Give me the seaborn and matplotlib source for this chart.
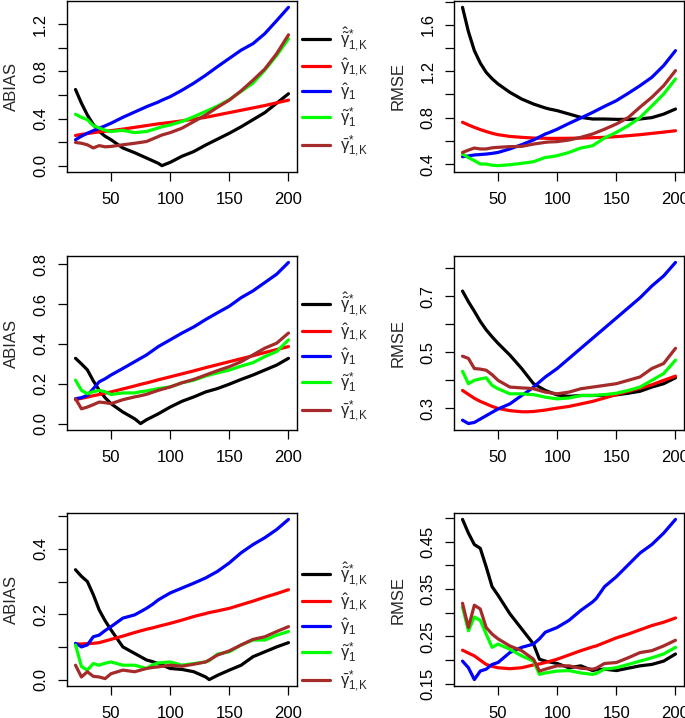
import matplotlib
matplotlib.use("Agg")
import matplotlib.pyplot as plt
import seaborn as sns
import pandas as pd

# ---------------- data ----------------
x_row1 = [20, 25, 30, 35, 40, 45, 50, 60, 70, 80, 90, 93, 100, 110, 120, 130, 140, 150, 160, 170, 180, 190, 200]
x_row2 = [20, 25, 30, 35, 40, 45, 50, 60, 70, 75, 80, 90, 100, 110, 120, 130, 140, 150, 160, 170, 180, 190, 200]
x_row3 = [20, 25, 30, 35, 40, 45, 50, 60, 70, 80, 85, 90, 100, 110, 120, 130, 133, 140, 150, 160, 170, 180, 190, 200]

estimators = [r"$\hat{\tilde{\gamma}}^{*}_{1{,}K}$", r"$\hat{\gamma}_{1{,}K}$", r"$\hat{\gamma}_{1}$",
              r"$\tilde{\gamma}^{*}_{1}$", r"$\bar{\gamma}^{*}_{1{,}K}$"]

# row 1 ABIAS
abias1_hts = [0.646, 0.53, 0.43, 0.35, 0.29, 0.25, 0.22, 0.15, 0.11, 0.065, 0.02, 0.0, 0.028, 0.08, 0.12, 0.175, 0.225, 0.275, 0.33, 0.39, 0.45, 0.53, 0.61]
abias1_hk = [0.256, 0.265, 0.272, 0.28, 0.287, 0.292, 0.297, 0.31, 0.325, 0.34, 0.355, 0.358, 0.367, 0.38, 0.395, 0.41, 0.43, 0.45, 0.47, 0.49, 0.51, 0.533, 0.556]
abias1_h = [0.22, 0.25, 0.275, 0.297, 0.318, 0.338, 0.36, 0.41, 0.455, 0.50, 0.54, 0.555, 0.585, 0.64, 0.70, 0.767, 0.84, 0.91, 0.98, 1.035, 1.12, 1.23, 1.343]
abias1_ts = [0.436, 0.41, 0.39, 0.34, 0.32, 0.30, 0.29, 0.30, 0.28, 0.29, 0.32, 0.33, 0.345, 0.375, 0.415, 0.46, 0.505, 0.56, 0.63, 0.70, 0.81, 0.935, 1.076]
abias1_bs = [0.197, 0.19, 0.177, 0.15, 0.17, 0.16, 0.163, 0.177, 0.19, 0.205, 0.247, 0.26, 0.28, 0.318, 0.374, 0.43, 0.495, 0.556, 0.635, 0.725, 0.82, 0.95, 1.11]
# row 1 RMSE
rmse1_hts = [1.75, 1.54, 1.377, 1.27, 1.19, 1.135, 1.09, 1.018, 0.96, 0.917, 0.883, 0.875, 0.86, 0.831, 0.802, 0.788, 0.788, 0.785, 0.785, 0.788, 0.80, 0.83, 0.874]
rmse1_hk = [0.76, 0.737, 0.716, 0.697, 0.68, 0.665, 0.653, 0.638, 0.63, 0.624, 0.622, 0.621, 0.621, 0.622, 0.624, 0.627, 0.63, 0.636, 0.644, 0.653, 0.664, 0.675, 0.687]
rmse1_h = [0.463, 0.47, 0.478, 0.482, 0.486, 0.492, 0.50, 0.53, 0.567, 0.607, 0.659, 0.67, 0.70, 0.75, 0.797, 0.845, 0.897, 0.946, 1.009, 1.075, 1.147, 1.248, 1.377]
rmse1_ts = [0.486, 0.455, 0.43, 0.40, 0.40, 0.39, 0.386, 0.394, 0.406, 0.42, 0.457, 0.46, 0.472, 0.50, 0.538, 0.558, 0.624, 0.673, 0.73, 0.80, 0.90, 1.003, 1.133]
rmse1_bs = [0.50, 0.52, 0.538, 0.53, 0.53, 0.54, 0.544, 0.55, 0.552, 0.572, 0.587, 0.59, 0.593, 0.607, 0.63, 0.659, 0.70, 0.745, 0.80, 0.89, 0.975, 1.075, 1.205]

# row 2 ABIAS
abias2_hts = [0.328, 0.30, 0.27, 0.215, 0.168, 0.13, 0.10, 0.058, 0.024, 0.0, 0.019, 0.049, 0.083, 0.112, 0.134, 0.159, 0.176, 0.198, 0.222, 0.244, 0.269, 0.294, 0.328]
abias2_hk = [0.12, 0.127, 0.133, 0.14, 0.146, 0.153, 0.159, 0.174, 0.189, 0.197, 0.204, 0.22, 0.235, 0.25, 0.265, 0.281, 0.296, 0.311, 0.326, 0.341, 0.357, 0.372, 0.387]
abias2_h = [0.125, 0.13, 0.142, 0.175, 0.21, 0.225, 0.244, 0.277, 0.311, 0.328, 0.345, 0.387, 0.421, 0.455, 0.486, 0.523, 0.557, 0.59, 0.633, 0.667, 0.709, 0.751, 0.81]
abias2_ts = [0.218, 0.167, 0.15, 0.16, 0.167, 0.16, 0.146, 0.154, 0.154, 0.16, 0.164, 0.176, 0.184, 0.205, 0.218, 0.239, 0.255, 0.269, 0.289, 0.306, 0.337, 0.362, 0.421]
abias2_bs = [0.125, 0.074, 0.083, 0.095, 0.108, 0.105, 0.10, 0.12, 0.134, 0.14, 0.147, 0.167, 0.184, 0.205, 0.222, 0.244, 0.266, 0.286, 0.311, 0.345, 0.379, 0.404, 0.455]
# row 2 RMSE
rmse2_hts = [0.718, 0.68, 0.646, 0.61, 0.58, 0.555, 0.532, 0.49, 0.442, 0.415, 0.388, 0.364, 0.348, 0.343, 0.346, 0.346, 0.346, 0.348, 0.354, 0.361, 0.376, 0.388, 0.409]
rmse2_hk = [0.364, 0.35, 0.336, 0.325, 0.316, 0.307, 0.30, 0.292, 0.288, 0.288, 0.289, 0.294, 0.301, 0.307, 0.316, 0.325, 0.337, 0.349, 0.361, 0.372, 0.384, 0.40, 0.415]
rmse2_h = [0.258, 0.246, 0.25, 0.262, 0.274, 0.286, 0.298, 0.316, 0.346, 0.36, 0.376, 0.412, 0.442, 0.478, 0.514, 0.55, 0.586, 0.622, 0.658, 0.694, 0.736, 0.772, 0.82]
rmse2_ts = [0.432, 0.388, 0.40, 0.405, 0.409, 0.382, 0.37, 0.352, 0.352, 0.35, 0.349, 0.34, 0.334, 0.337, 0.346, 0.346, 0.349, 0.354, 0.364, 0.376, 0.40, 0.424, 0.472]
rmse2_bs = [0.486, 0.478, 0.442, 0.44, 0.436, 0.42, 0.40, 0.376, 0.373, 0.372, 0.37, 0.358, 0.352, 0.358, 0.37, 0.376, 0.382, 0.388, 0.40, 0.412, 0.442, 0.46, 0.514]

# row 3 ABIAS
abias3_hts = [0.336, 0.316, 0.30, 0.26, 0.213, 0.18, 0.152, 0.10, 0.08, 0.06, 0.055, 0.049, 0.034, 0.031, 0.024, 0.008, 0.0, 0.013, 0.029, 0.044, 0.07, 0.085, 0.10, 0.113]
abias3_hk = [0.109, 0.109, 0.11, 0.111, 0.113, 0.118, 0.123, 0.133, 0.144, 0.154, 0.158, 0.163, 0.172, 0.182, 0.193, 0.202, 0.205, 0.21, 0.218, 0.229, 0.24, 0.252, 0.263, 0.275]
abias3_h = [0.111, 0.10, 0.106, 0.131, 0.136, 0.15, 0.162, 0.188, 0.198, 0.218, 0.23, 0.244, 0.265, 0.28, 0.295, 0.311, 0.317, 0.331, 0.357, 0.388, 0.413, 0.434, 0.459, 0.49]
abias3_ts = [0.106, 0.04, 0.029, 0.049, 0.044, 0.05, 0.054, 0.044, 0.044, 0.034, 0.045, 0.051, 0.054, 0.044, 0.049, 0.054, 0.058, 0.078, 0.085, 0.106, 0.121, 0.121, 0.136, 0.147]
abias3_bs = [0.044, 0.008, 0.024, 0.01, 0.008, 0.003, 0.018, 0.029, 0.024, 0.034, 0.037, 0.039, 0.044, 0.041, 0.047, 0.054, 0.06, 0.075, 0.088, 0.106, 0.123, 0.131, 0.147, 0.162]
# row 3 RMSE
rmse3_hts = [0.497, 0.468, 0.444, 0.436, 0.397, 0.355, 0.337, 0.298, 0.266, 0.234, 0.202, 0.198, 0.193, 0.184, 0.188, 0.178, 0.18, 0.181, 0.178, 0.183, 0.188, 0.191, 0.198, 0.213]
rmse3_hk = [0.221, 0.215, 0.209, 0.20, 0.191, 0.187, 0.184, 0.182, 0.184, 0.19, 0.192, 0.195, 0.202, 0.211, 0.22, 0.228, 0.23, 0.237, 0.247, 0.255, 0.264, 0.273, 0.28, 0.289]
rmse3_h = [0.198, 0.184, 0.159, 0.177, 0.181, 0.191, 0.195, 0.216, 0.227, 0.234, 0.245, 0.259, 0.269, 0.284, 0.305, 0.323, 0.33, 0.355, 0.376, 0.401, 0.426, 0.444, 0.468, 0.497]
rmse3_ts = [0.312, 0.262, 0.291, 0.284, 0.255, 0.227, 0.234, 0.223, 0.209, 0.198, 0.17, 0.173, 0.177, 0.178, 0.173, 0.17, 0.172, 0.181, 0.184, 0.191, 0.198, 0.205, 0.213, 0.227]
rmse3_bs = [0.32, 0.269, 0.316, 0.308, 0.269, 0.255, 0.245, 0.23, 0.22, 0.202, 0.177, 0.181, 0.188, 0.188, 0.183, 0.181, 0.183, 0.193, 0.195, 0.205, 0.216, 0.22, 0.23, 0.242]

x_ticks = [50, 100, 150, 200]
ab1_ticks = [0.0, 0.2, 0.4, 0.6, 0.8, 1.0, 1.2]
ab1_labels = ["0.0", "", "0.4", "", "0.8", "", "1.2"]
rm1_ticks = [0.4, 0.6, 0.8, 1.0, 1.2, 1.4, 1.6, 1.8]
rm1_labels = ["0.4", "", "0.8", "", "1.2", "", "1.6", ""]
ab2_ticks = [0.0, 0.2, 0.4, 0.6, 0.8]
ab2_labels = ["0.0", "0.2", "0.4", "0.6", "0.8"]
rm2_ticks = [0.3, 0.4, 0.5, 0.6, 0.7, 0.8]
rm2_labels = ["0.3", "", "0.5", "", "0.7", ""]
ab3_ticks = [0.0, 0.1, 0.2, 0.3, 0.4, 0.5]
ab3_labels = ["0.0", "", "0.2", "", "0.4", ""]
rm3_ticks = [0.15, 0.20, 0.25, 0.30, 0.35, 0.40, 0.45, 0.50]
rm3_labels = ["0.15", "", "0.25", "", "0.35", "", "0.45", ""]

colors = ["#000000", "#FF0000", "#0000FF", "#00FF00", "#A52A2A"]

# ---------------- style ----------------
sns.set_style("ticks")
plt.rcParams["font.family"] = ["Liberation Sans", "DejaVu Sans"]
plt.rcParams["mathtext.fontset"] = "custom"
plt.rcParams["mathtext.rm"] = "Liberation Sans"
plt.rcParams["mathtext.it"] = "Liberation Sans"
plt.rcParams["mathtext.bf"] = "Liberation Sans:bold"
plt.rcParams["mathtext.sf"] = "Liberation Sans"

FS = 12
W, H = 685, 718
fig = plt.figure(figsize=(W / 100, H / 100), dpi=100)

def frame(l, t, r, b):
    return [l / W, (H - b) / H, (r - l) / W, (b - t) / H]

def make_df(x, series):
    rows = []
    for name, vals in zip(estimators, series):
        for xi, yi in zip(x, vals):
            rows.append((xi, yi, name))
    return pd.DataFrame(rows, columns=["n", "value", "estimator"])

panels = [
    (x_row1, [abias1_hts, abias1_hk, abias1_h, abias1_ts, abias1_bs], "ABIAS", ab1_ticks, ab1_labels, frame(67, 1, 297, 172), 0.468),
    (x_row1, [rmse1_hts, rmse1_hk, rmse1_h, rmse1_ts, rmse1_bs], "RMSE", rm1_ticks, rm1_labels, frame(454, 1, 684, 172), None),
    (x_row2, [abias2_hts, abias2_hk, abias2_h, abias2_ts, abias2_bs], "ABIAS", ab2_ticks, ab2_labels, frame(67, 256, 297, 430), 0.42),
    (x_row2, [rmse2_hts, rmse2_hk, rmse2_h, rmse2_ts, rmse2_bs], "RMSE", rm2_ticks, rm2_labels, frame(454, 256, 684, 430), None),
    (x_row3, [abias3_hts, abias3_hk, abias3_h, abias3_ts, abias3_bs], "ABIAS", ab3_ticks, ab3_labels, frame(67, 513, 297, 686), 0.341),
    (x_row3, [rmse3_hts, rmse3_hk, rmse3_h, rmse3_ts, rmse3_bs], "RMSE", rm3_ticks, rm3_labels, frame(454, 513, 684, 686), None),
]

for x, series, ylabel, yt, ytl, rect, leg_y in panels:
    ax = fig.add_axes(rect)
    df = make_df(x, series)
    sns.lineplot(data=df, x="n", y="value", hue="estimator", hue_order=estimators,
                 palette=colors, estimator=None, linewidth=2.3, ax=ax, legend=False)
    ax.margins(x=0.04, y=0.04)
    ax.set_xticks(x_ticks)
    ax.set_xticklabels([str(v) for v in x_ticks])
    ax.set_yticks(yt)
    ax.set_yticklabels(ytl)
    for s in ax.spines.values():
        s.set_visible(True)
        s.set_linewidth(1.0)
        s.set_color("black")
    ax.tick_params(axis="both", direction="out", length=6.5, width=0.9, color="black",
                   labelsize=FS, labelcolor="black")
    ax.tick_params(axis="x", pad=8)
    ax.tick_params(axis="y", pad=7)
    for lab in ax.get_yticklabels():
        lab.set_rotation(90)
        lab.set_va("center")
        lab.set_ha("right")
    ax.set_xlabel("")
    ax.set_ylabel(ylabel, fontsize=FS, ha="center", va="center")
    ax.yaxis.set_label_coords(-56 / 230, 0.5)
    if leg_y is not None:
        handles = [plt.Line2D([], [], color=c, lw=2.3) for c in colors]
        ax.legend(handles, estimators, loc="center left", bbox_to_anchor=(1.022, leg_y),
                  frameon=False, fontsize=FS, handlelength=1.7, handletextpad=0.6,
                  borderaxespad=0, borderpad=0, labelspacing=0.2)

fig.savefig("out.png", dpi=100)
